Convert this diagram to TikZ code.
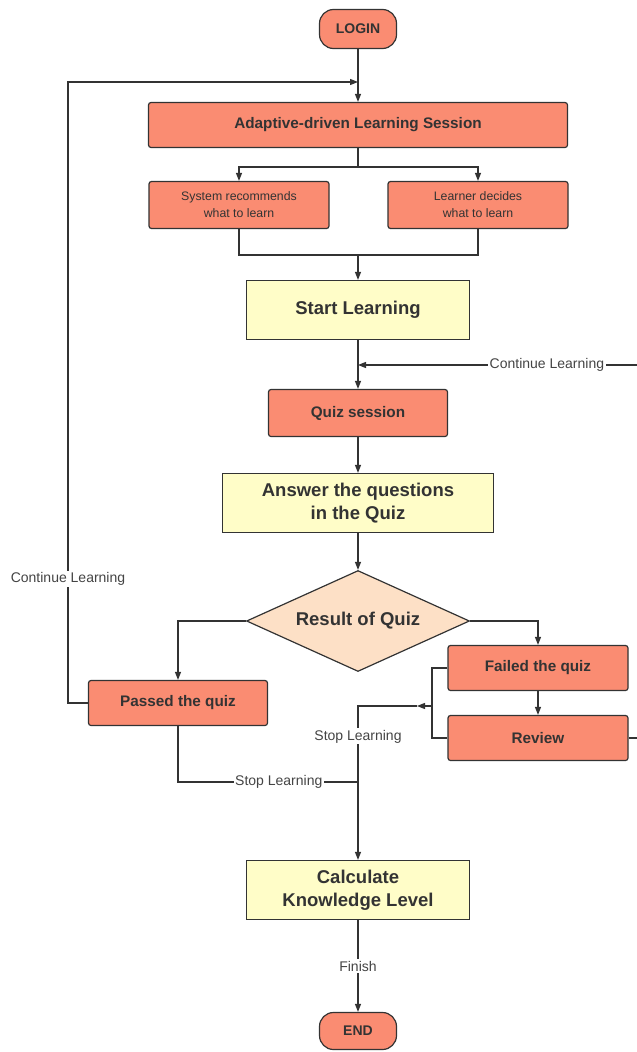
\documentclass[tikz,border=0pt]{standalone}
\usepackage{fontspec}
\setmainfont{Liberation Sans}
\usetikzlibrary{shapes.geometric,arrows.meta}
\definecolor{salmon}{HTML}{FA8C72}
\definecolor{yel}{HTML}{FFFDC8}
\definecolor{peach}{HTML}{FDE0C6}
\definecolor{linec}{HTML}{333333}
\definecolor{textc}{HTML}{333333}
\definecolor{lblc}{HTML}{444444}
\tikzset{
  base/.style={draw=linec, line width=1.2pt, text=textc, inner sep=0pt, align=center},
  rbox/.style={base, fill=salmon, rounded corners=2.5pt, font=\bfseries\fontsize{15.3}{18}\selectfont},
  sbox/.style={base, fill=salmon, rounded corners=2.5pt, font=\fontsize{12.3}{17}\selectfont},
  ybox/.style={base, fill=yel, font=\bfseries\fontsize{18.5}{23}\selectfont},
  pill/.style={base, fill=salmon, rounded corners=14pt, font=\bfseries\fontsize{14}{16}\selectfont},
  dia/.style={base, diamond, fill=peach, aspect=2.2, font=\bfseries\fontsize{18.5}{22}\selectfont},
  lbl/.style={fill=white, text=lblc, inner sep=1.5pt, font=\fontsize{14}{16}\selectfont},
  conn/.style={draw=linec, line width=1.2pt},
  arr/.style={conn, -{Triangle[length=8pt,width=6pt]}}
}
\begin{document}
\begin{tikzpicture}[x=1pt,y=-1pt]
\useasboundingbox (0,0) rectangle (637,1052);

\node[pill, minimum width=77pt, minimum height=39pt] (login) at (358,29) {LOGIN};
\node[rbox, minimum width=419pt, minimum height=45pt] (adaptive) at (358,125) {Adaptive-driven Learning Session};
\node[sbox, minimum width=180pt, minimum height=47pt] (system) at (239,205) {System recommends\\what to learn};
\node[sbox, minimum width=180pt, minimum height=47pt] (learner) at (478,205) {Learner decides\\what to learn};
\node[ybox, minimum width=223pt, minimum height=59pt] (start) at (358,310) {Start Learning};
\node[rbox, minimum width=179pt, minimum height=47pt] (quiz) at (358,413) {Quiz session};
\node[ybox, minimum width=271pt, minimum height=59pt] (answer) at (358,503) {Answer the questions\\in the Quiz};
\node[dia, minimum width=223pt, minimum height=101pt] (result) at (358,621) {Result of Quiz};
\node[rbox, minimum width=180pt, minimum height=45pt] (failed) at (538,668) {Failed the quiz};
\node[rbox, minimum width=180pt, minimum height=45pt] (review) at (538,738) {Review};
\node[rbox, minimum width=179pt, minimum height=45pt] (passed) at (178,703) {Passed the quiz};
\node[ybox, minimum width=223pt, minimum height=59pt] (calc) at (358,890) {Calculate\\Knowledge Level};
\node[pill, minimum width=77pt, minimum height=37pt] (end) at (358,1031) {END};

\coordinate (loopin) at (358,82);
\coordinate (split) at (358,167);
\coordinate (merge) at (358,255);
\coordinate (cin) at (358,365);
\coordinate (bj) at (432,706);
\coordinate (sj) at (358,782);

% top
\draw[arr] (login) -- (adaptive);
\draw[arr] (passed.west) -- (68,703) -- node[lbl, pos=0.2]{Continue Learning} (68,82) -- (loopin);
\draw[arr] (adaptive.south) -- (split) -| (system.north);
\draw[arr] (split) -| (learner.north);
\draw[conn] (system.south) |- (merge) -| (learner.south);
\draw[arr] (merge) -- (start);

% middle
\draw[arr] (start) -- (quiz);
\draw[arr] (review.east) -- (640,738) -- (640,365) -- node[lbl, pos=0.33]{Continue Learning} (cin);
\draw[arr] (quiz) -- (answer);
\draw[arr] (answer) -- (result);
\draw[arr] (result.west) -| (passed.north);
\draw[arr] (result.east) -| (failed.north);
\draw[arr] (failed) -- (review);

% failed branch
\draw[conn] (failed.west) -- (432,668) -- (432,738) -- (review.west);
\draw[arr] (bj) -- (417,706);
\draw[conn] (417,706) -- (358,706) -- node[lbl, pos=0.4]{Stop Learning} (sj);
\draw[conn] (passed.south) |- node[lbl, pos=0.78]{Stop Learning} (sj);
\draw[arr] (sj) -- (calc);

% bottom
\draw[arr] (calc) -- node[lbl]{Finish} (end);
\end{tikzpicture}
\end{document}
